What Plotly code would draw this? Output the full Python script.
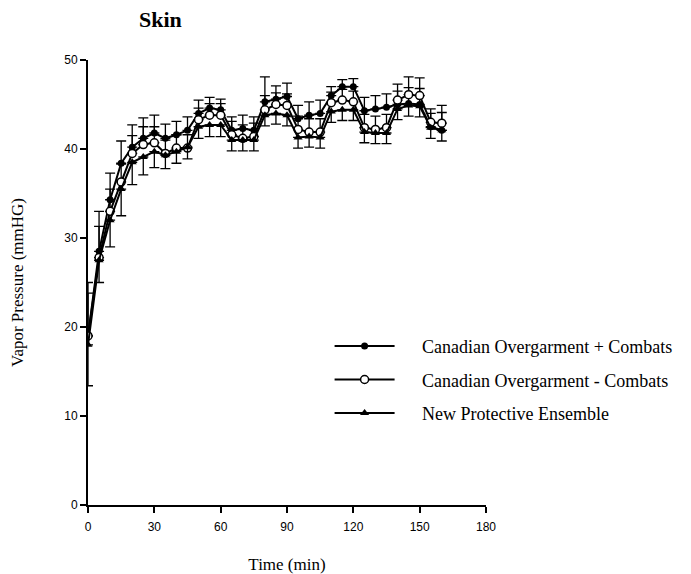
import plotly.graph_objects as go

time_min = [0, 5, 10, 15, 20, 25, 30, 35, 40, 45, 50, 55, 60, 65, 70, 75, 80,
            85, 90, 95, 100, 105, 110, 115, 120, 125, 130, 135, 140, 145, 150, 155, 160]

co_plus = [19.0, 28.5, 34.3, 38.4, 40.2, 41.2, 41.8, 41.2, 41.6, 42.1, 44.0, 44.6, 44.4,
           42.1, 42.3, 42.1, 45.3, 45.6, 45.9, 43.4, 43.8, 44.0, 46.0, 47.0, 47.0,
           44.3, 44.5, 44.7, 45.0, 45.1, 45.0, 42.5, 42.1]
co_plus_err = [6.0, 4.5, 3.0, 2.5, 2.5, 2.3, 2.0, 1.6, 1.5, 1.5, 1.5, 1.2, 1.2,
               1.5, 1.5, 1.5, 2.8, 1.5, 1.5, 1.5, 1.5, 1.5, 1.0, 0.8, 0.9,
               1.5, 1.5, 1.5, 1.5, 1.8, 1.8, 1.5, 2.0]

co_minus = [19.0, 27.8, 33.0, 36.3, 39.5, 40.5, 40.7, 39.5, 40.1, 40.1, 43.3, 43.8, 43.8,
            41.6, 41.2, 41.4, 44.4, 45.0, 44.9, 42.2, 41.9, 41.9, 45.2, 45.5, 45.3,
            42.4, 42.2, 42.4, 45.5, 46.1, 46.0, 43.0, 42.9]
co_minus_err = [4.8, 3.5, 2.5, 2.0, 2.0, 2.0, 1.8, 1.5, 1.5, 1.5, 1.3, 1.3, 1.3,
                1.5, 1.5, 1.5, 1.6, 1.3, 1.3, 1.5, 1.5, 1.5, 1.2, 1.2, 1.2,
                1.5, 1.5, 1.5, 1.8, 2.0, 2.0, 1.5, 2.0]

npe = [18.0, 27.5, 32.0, 35.5, 38.5, 39.1, 39.7, 39.3, 39.7, 40.2, 42.5, 42.7, 42.7,
       41.0, 41.0, 41.0, 43.8, 44.0, 43.8, 41.3, 41.4, 41.3, 44.2, 44.4, 44.4,
       41.9, 41.8, 41.8, 44.5, 44.9, 44.8, 42.4, 42.1]
npe_err = [4.6, 2.5, 3.0, 3.0, 2.5, 2.0, 1.8, 1.5, 1.3, 1.3, 1.3, 1.3, 1.3,
           1.2, 1.2, 1.2, 1.2, 1.2, 1.2, 1.2, 1.2, 1.2, 1.2, 1.2, 1.2,
           1.2, 1.2, 1.2, 1.2, 1.2, 1.2, 1.2, 1.2]

series_names = ["Canadian Overgarment + Combats",
                "Canadian Overgarment - Combats",
                "New Protective Ensemble"]

x_ticks = [0, 30, 60, 90, 120, 150, 180]
y_ticks = [0, 10, 20, 30, 40, 50]

serif = "Liberation Serif, Times New Roman, serif"
sans = "Liberation Sans, Arial, sans-serif"
gap = "\u00a0" * 5

fig = go.Figure()

fig.add_trace(go.Scatter(
    x=time_min, y=co_plus, mode="lines+markers",
    name=gap + series_names[0], legendgroup="a",
    line=dict(color="black", width=2),
    marker=dict(symbol="circle", size=7, color="black"),
    error_y=dict(type="data", array=co_plus_err, arrayminus=[0] * len(co_plus_err),
                 symmetric=False, color="black", thickness=1.3, width=5),
))
fig.add_trace(go.Scatter(
    x=time_min, y=co_minus, mode="lines+markers",
    name=gap + series_names[1], legendgroup="b",
    line=dict(color="black", width=2),
    marker=dict(symbol="circle", size=8, color="white", line=dict(color="black", width=1.5)),
    error_y=dict(type="data", array=co_minus_err, arrayminus=[0] * len(co_minus_err),
                 symmetric=False, color="black", thickness=1.3, width=5),
))
fig.add_trace(go.Scatter(
    x=time_min, y=npe, mode="lines+markers",
    name=gap + series_names[2], legendgroup="c",
    line=dict(color="black", width=2),
    marker=dict(symbol="triangle-up", size=8, color="black"),
    error_y=dict(type="data", array=[0] * len(npe_err), arrayminus=npe_err,
                 symmetric=False, color="black", thickness=1.3, width=5),
))

fig.update_layout(
    width=691, height=574,
    margin=dict(l=88, r=205, t=60, b=69),
    paper_bgcolor="white", plot_bgcolor="white",
    title=dict(text="<b>Skin</b>", x=139 / 691, xanchor="left", y=1 - 19 / 574, yanchor="middle",
               font=dict(family=serif, size=22, color="black")),
    legend=dict(x=0.607, y=0.398, xanchor="left", yanchor="top",
                font=dict(family=serif, size=18, color="black"),
                bgcolor="rgba(0,0,0,0)", traceorder="grouped", tracegroupgap=7,
                itemwidth=60),
    showlegend=True,
)

fig.update_xaxes(
    range=[0, 180], tickvals=x_ticks, ticktext=[str(v) for v in x_ticks],
    showgrid=False, zeroline=False, showline=True, linecolor="black", linewidth=2,
    ticks="outside", ticklen=6, tickwidth=2, tickcolor="black",
    ticklabelstandoff=4, automargin=False,
    tickfont=dict(family=sans, size=12, color="black"),
    title=dict(text="Time (min)", font=dict(family=serif, size=17, color="black"), standoff=25),
)
fig.update_yaxes(
    range=[0, 50], tickvals=y_ticks, ticktext=[str(v) for v in y_ticks],
    showgrid=False, zeroline=False, showline=True, linecolor="black", linewidth=2,
    ticks="outside", ticklen=6, tickwidth=2, tickcolor="black",
    automargin=False,
    tickfont=dict(family=sans, size=12, color="black"),
    title=dict(text="Vapor Pressure (mmHG)", font=dict(family=serif, size=17, color="black"), standoff=36),
)

fig.write_html("out.html")
